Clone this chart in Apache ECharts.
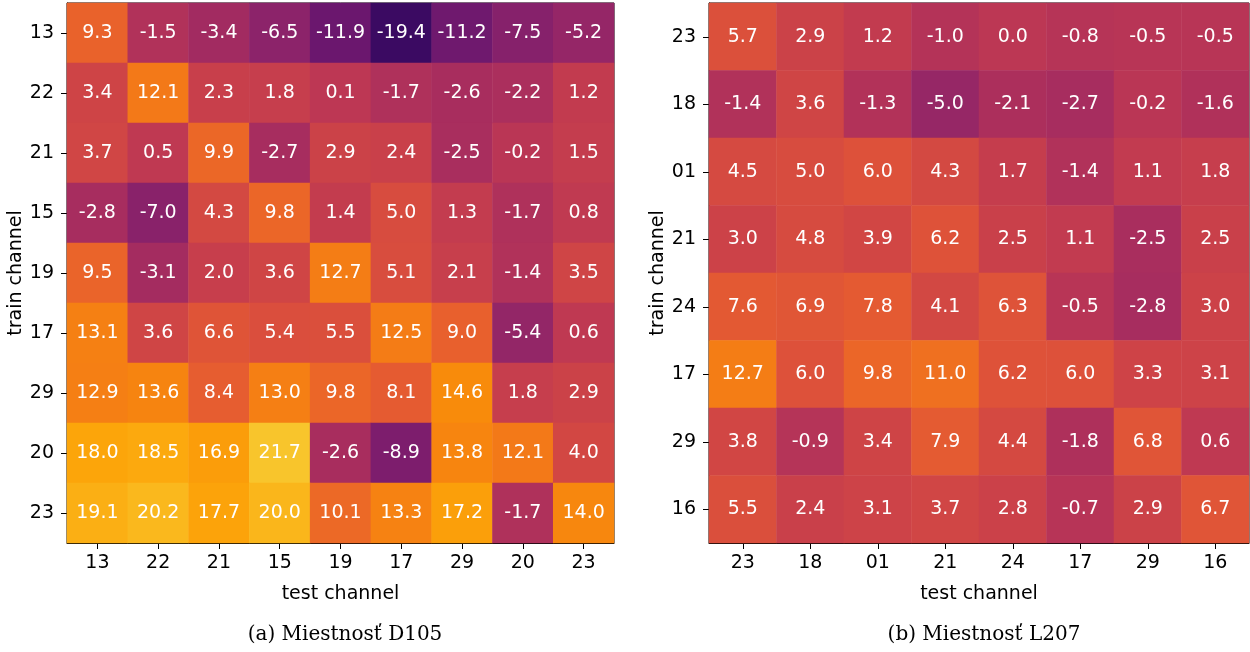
<!DOCTYPE html>
<html>
<head>
<meta charset="utf-8">
<script src="https://cdn.jsdelivr.net/npm/echarts@6/dist/echarts.min.js"></script>
<style>
  html, body { margin: 0; padding: 0; background: #fff; }
  #chart { width: 1250px; height: 652px; }
</style>
</head>
<body>
<div id="chart"></div>
<script>
// room D105: train channel (rows, top to bottom) x test channel (cols)
var chD105 = ['13', '22', '21', '15', '19', '17', '29', '20', '23'];
var valD105 = [
  [9.3, -1.5, -3.4, -6.5, -11.9, -19.4, -11.2, -7.5, -5.2],
  [3.4, 12.1, 2.3, 1.8, 0.1, -1.7, -2.6, -2.2, 1.2],
  [3.7, 0.5, 9.9, -2.7, 2.9, 2.4, -2.5, -0.2, 1.5],
  [-2.8, -7.0, 4.3, 9.8, 1.4, 5.0, 1.3, -1.7, 0.8],
  [9.5, -3.1, 2.0, 3.6, 12.7, 5.1, 2.1, -1.4, 3.5],
  [13.1, 3.6, 6.6, 5.4, 5.5, 12.5, 9.0, -5.4, 0.6],
  [12.9, 13.6, 8.4, 13.0, 9.8, 8.1, 14.6, 1.8, 2.9],
  [18.0, 18.5, 16.9, 21.7, -2.6, -8.9, 13.8, 12.1, 4.0],
  [19.1, 20.2, 17.7, 20.0, 10.1, 13.3, 17.2, -1.7, 14.0]
];

// room L207
var chL207 = ['23', '18', '01', '21', '24', '17', '29', '16'];
var valL207 = [
  [5.7, 2.9, 1.2, -1.0, 0.0, -0.8, -0.5, -0.5],
  [-1.4, 3.6, -1.3, -5.0, -2.1, -2.7, -0.2, -1.6],
  [4.5, 5.0, 6.0, 4.3, 1.7, -1.4, 1.1, 1.8],
  [3.0, 4.8, 3.9, 6.2, 2.5, 1.1, -2.5, 2.5],
  [7.6, 6.9, 7.8, 4.1, 6.3, -0.5, -2.8, 3.0],
  [12.7, 6.0, 9.8, 11.0, 6.2, 6.0, 3.3, 3.1],
  [3.8, -0.9, 3.4, 7.9, 4.4, -1.8, 6.8, 0.6],
  [5.5, 2.4, 3.1, 3.7, 2.8, -0.7, 2.9, 6.7]
];

var captions = ['(a) Miestnosť D105', '(b) Miestnosť L207'];

// inferno colormap
var inferno = ['#000004', '#0a0722', '#1b0c41', '#300a5b', '#450a69', '#57106e',
  '#6a176e', '#7c1d6d', '#8f2469', '#a52c60', '#bc3754', '#cc4248', '#dd513a',
  '#e8602d', '#f37819', '#f98e09', '#fca50a', '#f9bf24', '#f6d746', '#f3ee6f', '#fcffa4'];

function toCells(rows) {
  var out = [];
  rows.forEach(function (row, r) {
    row.forEach(function (v, c) { out.push([c, r, v]); });
  });
  return out;
}

var font = 'DejaVu Sans';

function xAx(idx, cats) {
  return {
    type: 'category', gridIndex: idx, data: cats,
    name: 'test channel', nameLocation: 'middle', nameGap: 42,
    nameTextStyle: { fontFamily: font, fontSize: 19, color: '#000' },
    axisLine: { show: true, lineStyle: { color: '#000', width: 1 } },
    axisTick: { show: true, alignWithLabel: true, length: 6, lineStyle: { color: '#000' } },
    axisLabel: { fontFamily: font, fontSize: 19, color: '#000', margin: 11 },
    splitLine: { show: false }
  };
}
function yAx(idx, cats) {
  return {
    type: 'category', gridIndex: idx, data: cats, inverse: true,
    name: 'train channel', nameLocation: 'middle', nameGap: 39, nameRotate: 90,
    nameTextStyle: { fontFamily: font, fontSize: 19, color: '#000' },
    axisLine: { show: true, lineStyle: { color: '#000', width: 1 } },
    axisTick: { show: true, alignWithLabel: true, length: 6, lineStyle: { color: '#000' } },
    axisLabel: { fontFamily: font, fontSize: 19, color: '#000', margin: 13 },
    splitLine: { show: false }
  };
}
function heat(idx, rows) {
  return {
    type: 'heatmap', xAxisIndex: idx, yAxisIndex: idx,
    data: toCells(rows),
    label: {
      show: true, color: '#fff', fontFamily: font, fontSize: 19,
      formatter: function (p) { return p.value[2].toFixed(1); }
    },
    emphasis: { disabled: true }
  };
}

var chart = echarts.init(document.getElementById('chart'));
chart.setOption({
  backgroundColor: '#fff',
  animation: false,
  title: [
    { text: captions[0], left: 340, top: 620, textAlign: 'center',
      textStyle: { fontFamily: 'DejaVu Serif', fontSize: 20, fontWeight: 'normal', color: '#000' } },
    { text: captions[1], left: 979, top: 620, textAlign: 'center',
      textStyle: { fontFamily: 'DejaVu Serif', fontSize: 20, fontWeight: 'normal', color: '#000' } }
  ],
  grid: [
    { left: 67, top: 3, width: 547, height: 540, show: true, borderColor: '#000', borderWidth: 1, backgroundColor: 'transparent' },
    { left: 709, top: 3, width: 540, height: 540, show: true, borderColor: '#000', borderWidth: 1, backgroundColor: 'transparent' }
  ],
  xAxis: [xAx(0, chD105), xAx(1, chL207)],
  yAxis: [yAx(0, chD105), yAx(1, chL207)],
  visualMap: {
    show: false, min: -30, max: 30, seriesIndex: [0, 1], dimension: 2,
    inRange: { color: inferno }
  },
  series: [heat(0, valD105), heat(1, valL207)]
});
</script>
</body>
</html>
